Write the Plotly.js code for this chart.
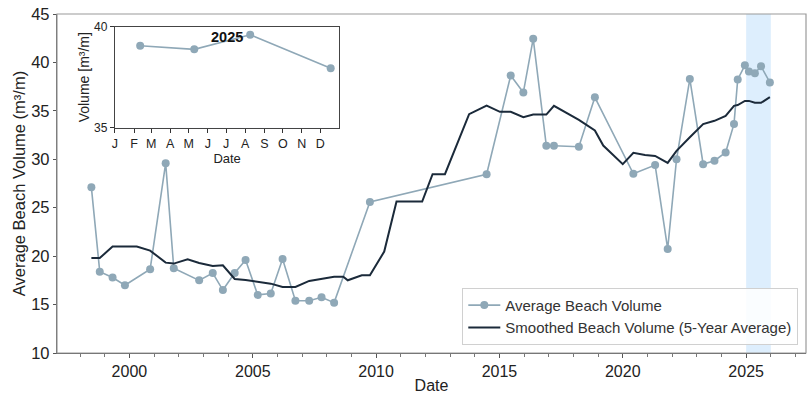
<!DOCTYPE html>
<html>
<head>
<meta charset="utf-8">
<script src="https://cdn.plot.ly/plotly-3.0.1.min.js"></script>
<style>
html,body{margin:0;padding:0;background:#fff;}
#chart{width:809px;height:394px;}
</style>
</head>
<body>
<div id="chart"></div>
<script>
// ---- data (decimal years) ----
const avgYears = [1998.46, 1998.80, 1999.32, 1999.82, 2000.84, 2001.47, 2001.80, 2002.83, 2003.38, 2003.79,
  2004.27, 2004.71, 2005.20, 2005.73, 2006.21, 2006.73, 2007.29, 2007.79, 2008.30, 2009.75,
  2014.48, 2015.46, 2015.97, 2016.37, 2016.90, 2017.21, 2018.22, 2018.87, 2020.43, 2021.31,
  2021.82, 2022.18, 2022.72, 2023.26, 2023.72, 2024.17, 2024.51, 2024.66, 2024.95,
  2025.115, 2025.356, 2025.605, 2025.962];
const avgValues = [27.1, 18.4, 17.8, 17.0, 18.65, 29.6, 18.75, 17.5, 18.25, 16.5,
  18.25, 19.6, 16.0, 16.15, 19.7, 15.4, 15.4, 15.75, 15.2, 25.6,
  28.45, 38.65, 36.9, 42.45, 31.4, 31.4, 31.3, 36.4, 28.5, 29.4,
  20.75, 30.0, 38.3, 29.5, 29.85, 30.7, 33.65, 38.25, 39.7,
  39.06, 38.88, 39.6, 37.94];

const smYears = [1998.46, 1998.80, 1999.32, 1999.82, 2000.30, 2000.84, 2001.47, 2001.80, 2002.36, 2002.83,
  2003.38, 2003.79, 2004.27, 2004.71, 2005.20, 2005.73, 2006.21, 2006.73, 2007.29, 2007.79,
  2008.30, 2008.67, 2008.85, 2009.42, 2009.75, 2010.33, 2010.83, 2011.87, 2012.29, 2012.79,
  2013.77, 2014.48, 2015.02, 2015.46, 2015.97, 2016.37, 2016.90, 2017.21, 2018.22, 2018.87,
  2019.21, 2020.00, 2020.43, 2020.90, 2021.31, 2021.82, 2022.18, 2022.72, 2023.26, 2023.72,
  2024.17, 2024.51, 2024.66, 2024.95, 2025.115, 2025.356, 2025.605, 2025.962];
const smValues = [19.8, 19.8, 21.0, 21.0, 21.0, 20.57, 19.33, 19.23, 19.68, 19.3,
  18.99, 19.06, 17.64, 17.54, 17.37, 17.16, 16.82, 16.82, 17.44, 17.68,
  17.88, 17.88, 17.51, 18.03, 18.03, 20.47, 25.63, 25.63, 28.46, 28.46,
  34.66, 35.55, 34.9, 34.9, 34.35, 34.62, 34.62, 35.52, 34.07, 32.97,
  31.42, 29.5, 30.66, 30.45, 30.35, 29.63, 30.87, 32.28, 33.63, 33.97,
  34.48, 35.52, 35.6, 36.03, 36.03, 35.83, 35.83, 36.41];

const insetYear = 2025;
const monthLabels = ['J','F','M','A','M','J','J','A','S','O','N','D'];
const mainYTicks = [10, 15, 20, 25, 30, 35, 40, 45];
const insetYTicks = [35, 40];
const legendNames = ['Average Beach Volume', 'Smoothed Beach Volume (5-Year Average)'];

// ---- helpers ----
function dy2date(d){
  const y = Math.floor(d);
  const s = Date.UTC(y,0,1), e = Date.UTC(y+1,0,1);
  return new Date(s + (d - y) * (e - s)).toISOString().slice(0,10);
}
const avgDates = avgYears.map(dy2date);
const smDates = smYears.map(dy2date);
const insetIdx = avgYears.map((y,i)=>i).filter(i => Math.floor(avgYears[i]) === insetYear);
const insetDates = insetIdx.map(i => avgDates[i]);
const insetVals = insetIdx.map(i => avgValues[i]);
const monthStarts = monthLabels.map((m,i)=> insetYear + '-' + String(i+1).padStart(2,'0') + '-01');

const avgColor = '#8fa8b7';
const smColor = '#1b2a3a';
const font = 'Liberation Sans, Arial, Helvetica, sans-serif';

const traces = [
  {x: avgDates, y: avgValues, type:'scatter', mode:'lines+markers', name: legendNames[0],
   line:{color:avgColor, width:1.6}, marker:{color:avgColor, size:8}, xaxis:'x', yaxis:'y'},
  {x: smDates, y: smValues, type:'scatter', mode:'lines', name: legendNames[1],
   line:{color:smColor, width:2}, xaxis:'x', yaxis:'y'},
  {x: insetDates, y: insetVals, type:'scatter', mode:'lines+markers', showlegend:false,
   line:{color:avgColor, width:1.6}, marker:{color:avgColor, size:8}, xaxis:'x2', yaxis:'y2'}
];

const layout = {
  width: 809, height: 394,
  margin: {l:57, r:3, t:14, b:41},
  paper_bgcolor:'#fff', plot_bgcolor:'#fff',
  font: {family: font, color:'#222'},
  showlegend: true,
  legend: {x:0.9897, y:0.024, xanchor:'right', yanchor:'bottom', bgcolor:'rgba(255,255,255,0.85)',
    bordercolor:'#d0d0d0', borderwidth:1, font:{size:15, color:'#333'}, tracegroupgap:0, itemwidth:32},
  xaxis: {type:'date', range:[dy2date(1997.065), dy2date(2027.43)], domain:[0,1],
    tick0:'2000-01-01', dtick:'M60', tickformat:'%Y', ticks:'outside', ticklen:4, tickcolor:'#555',
    tickfont:{size:16, color:'#222'}, showgrid:false, zeroline:false,
    showline:true, linecolor:'#555', linewidth:1.2,
    minor:{dtick:'M12', tick0:'2000-01-01', ticks:'outside', ticklen:2.5, tickcolor:'#777', showgrid:false},
    title:{text:'Date', font:{size:16, color:'#222'}, standoff:3}},
  yaxis: {range:[10,45], tickvals: mainYTicks, ticks:'outside', ticklen:3, tickcolor:'#555',
    tickfont:{size:16.5, color:'#222'}, showgrid:false, zeroline:false,
    showline:true, linecolor:'#555', linewidth:1.2,
    title:{text:'Average Beach Volume (m³/m)', font:{size:16.5, color:'#222'}, standoff:1}},
  xaxis2: {type:'date', domain:[0.0774, 0.3769], anchor:'y2', range:[insetYear+'-01-01', (insetYear+1)+'-01-01'],
    tickvals: monthStarts, ticktext: monthLabels, ticks:'outside', ticklen:4, tickcolor:'#333',
    tickfont:{size:12.5, color:'#222'}, showgrid:false, zeroline:false,
    showline:true, mirror:true, linecolor:'#444', linewidth:1.2,
    title:{text:'Date', font:{size:13, color:'#222'}, standoff:2}},
  yaxis2: {domain:[0.6646, 0.9625], anchor:'x2', range:[35,40], tickvals: insetYTicks,
    ticks:'outside', ticklen:4, tickcolor:'#333', tickfont:{size:12, color:'#222'},
    showgrid:false, zeroline:false, showline:true, mirror:true, linecolor:'#444', linewidth:1.2,
    title:{text:'Volume [m³/m]', font:{size:14, color:'#222'}, standoff:1}},
  shapes: [
    {type:'rect', xref:'x', yref:'paper', x0: insetYear+'-01-01', x1:(insetYear+1)+'-01-01', y0:0, y1:1,
     fillcolor:'#ddeefd', line:{width:0}, layer:'below'},
    {type:'rect', xref:'x2 domain', yref:'y2 domain', x0:0, x1:1, y0:0, y1:1,
     fillcolor:'#eff7fe', line:{width:0}, layer:'below'},
    {type:'rect', xref:'paper', yref:'paper', x0:0, x1:1, y0:0, y1:1,
     fillcolor:'rgba(0,0,0,0)', line:{color:'#9a9a9a', width:1.2}, layer:'above'}
  ],
  annotations: [
    {xref:'x2 domain', yref:'y2 domain', x:0.5, y:0.9, xanchor:'center', yanchor:'middle',
     text:'<b>'+insetYear+'</b>', showarrow:false, font:{size:14.5, color:'#111'}}
  ]
};

Plotly.newPlot('chart', traces, layout, {displayModeBar:false, staticPlot:true});
</script>
</body>
</html>
